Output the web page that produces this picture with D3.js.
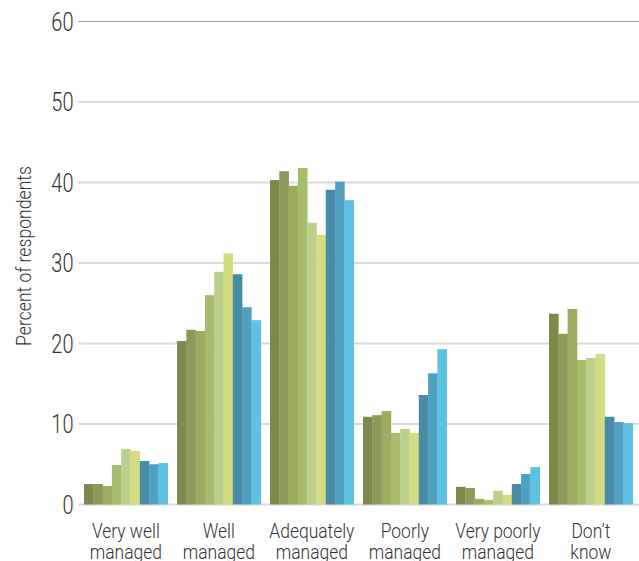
<!DOCTYPE html>
<html>
<head>
<meta charset="utf-8">
<script src="https://cdn.jsdelivr.net/npm/d3@7"></script>
<style>
  html, body { margin: 0; padding: 0; background: #fff; }
  svg { display: block; }
  text { font-family: Roboto, "Liberation Sans", sans-serif; font-weight: 300; fill: #333; }
</style>
</head>
<body>
<svg id="chart" width="639" height="561"></svg>
<script>
// Category labels (two lines each)
const categories = [
  ["Very well", "managed"],
  ["Well", "managed"],
  ["Adequately", "managed"],
  ["Poorly", "managed"],
  ["Very poorly", "managed"],
  ["Don\u2019t", "know"]
];

// Percent of respondents, nine survey series per category
const veryWell   = [2.55, 2.55, 2.3, 4.9, 6.9, 6.65, 5.4, 5.0, 5.15];
const well       = [20.3, 21.7, 21.55, 26.0, 28.9, 31.2, 28.6, 24.5, 22.9];
const adequately = [40.3, 41.4, 39.6, 41.8, 35.0, 33.5, 39.1, 40.1, 37.8];
const poorly     = [10.9, 11.1, 11.6, 8.9, 9.4, 8.9, 13.6, 16.3, 19.3];
const veryPoorly = [2.2, 2.05, 0.7, 0.55, 1.7, 1.2, 2.55, 3.8, 4.65];
const dontKnow   = [23.7, 21.2, 24.3, 17.95, 18.2, 18.7, 10.9, 10.25, 10.1];

const yTicks = [0, 10, 20, 30, 40, 50, 60];

const seriesColors = ["#7b8a4b", "#8a9a5a", "#9bab5f", "#a6be6b", "#bbd08c",
                      "#d4dc82", "#478ba5", "#4fa0c1", "#5dc1e4"];

const table = [veryWell, well, adequately, poorly, veryPoorly, dontKnow]
  .map((vals, i) => ({ label: categories[i], key: categories[i].join(" "), values: vals }));

const svg = d3.select("#chart");
const W = 639;
const narrow = 0.8; // horizontal squeeze for a condensed look

const y = d3.scaleLinear().domain([0, 60]).range([504.5, 21.5]);

const x = d3.scaleBand()
  .domain(table.map(d => d.key))
  .range([79.35, 637.35])
  .paddingInner(0.1)
  .paddingOuter(0.05);

const xSeries = d3.scaleBand()
  .domain(d3.range(seriesColors.length))
  .range([0, x.bandwidth()])
  .padding(0);

// Horizontal gridlines
svg.append("g").selectAll("line")
  .data(yTicks)
  .join("line")
  .attr("x1", 78)
  .attr("x2", W)
  .attr("y1", d => y(d))
  .attr("y2", d => y(d))
  .attr("stroke", d => d === 60 ? "#a3a3a3" : "#dadada")
  .attr("stroke-width", d => d === 60 ? 1.2 : 2);

// Y tick labels
svg.append("g").selectAll("text")
  .data(yTicks)
  .join("text")
  .attr("transform", d => `translate(73.5,${y(d)}) scale(${narrow},1)`)
  .attr("dy", "0.36em")
  .attr("text-anchor", "end")
  .attr("font-size", 25)
  .text(d => d);

// Bars
const groups = svg.append("g").selectAll("g")
  .data(table)
  .join("g")
  .attr("transform", d => `translate(${x(d.key)},0)`);

groups.selectAll("rect")
  .data(d => d.values.map((v, i) => ({ v, i })))
  .join("rect")
  .attr("x", d => xSeries(d.i))
  .attr("width", xSeries.bandwidth() + 0.3)
  .attr("y", d => y(d.v))
  .attr("height", d => y(0) - y(d.v))
  .attr("fill", d => seriesColors[d.i]);

// Category labels
const catLabels = svg.append("g").selectAll("text")
  .data(table)
  .join("text")
  .attr("text-anchor", "middle")
  .attr("font-size", 21)
  .attr("transform", d => `translate(${x(d.key) + x.bandwidth() / 2},537.5) scale(0.83,1)`);

catLabels.selectAll("tspan")
  .data(d => d.label)
  .join("tspan")
  .attr("x", 0)
  .attr("y", (d, i) => i * 22)
  .text(d => d);

// Y axis title
svg.append("text")
  .attr("transform", `translate(31,256) rotate(-90) scale(0.84,1)`)
  .attr("text-anchor", "middle")
  .attr("font-size", 21)
  .text("Percent of respondents");
</script>
</body>
</html>
